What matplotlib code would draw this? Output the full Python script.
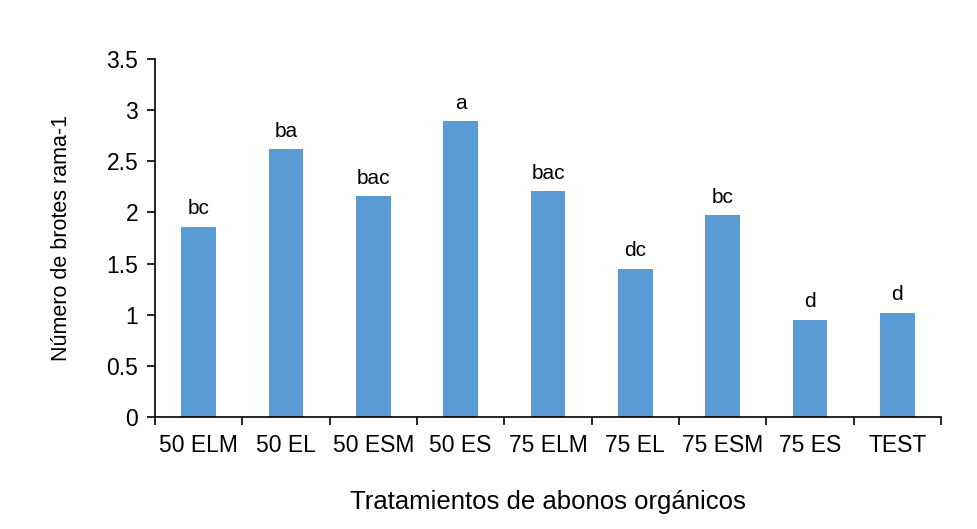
import matplotlib
matplotlib.use('Agg')
import matplotlib.pyplot as plt

plt.rcParams['font.family'] = ['Liberation Sans', 'DejaVu Sans']

tratamientos = ['50 ELM', '50 EL', '50 ESM', '50 ES', '75 ELM', '75 EL', '75 ESM', '75 ES', 'TEST']
brotes = [1.86, 2.62, 2.16, 2.89, 2.21, 1.45, 1.97, 0.95, 1.02]
letras = ['bc', 'ba', 'bac', 'a', 'bac', 'dc', 'bc', 'd', 'd']

BAR_COLOR = '#5b9bd5'

fig = plt.figure(figsize=(9.77, 5.29), dpi=100)
ax = fig.add_axes([155/977, 1 - 417/529, (941-155)/977, (417-59)/529])

x = list(range(len(tratamientos)))
bars = ax.bar(x, brotes, width=0.4, color=BAR_COLOR)

for b, txt in zip(bars, letras):
    ax.annotate(txt, (b.get_x() + b.get_width()/2, b.get_height()),
                xytext=(0, 6), textcoords='offset points',
                ha='center', va='bottom', fontsize=15)

ax.set_xlim(-0.5, len(tratamientos) - 0.5)
ax.set_ylim(0, 3.5)
ax.set_yticks([0, 0.5, 1, 1.5, 2, 2.5, 3, 3.5])
ax.set_yticklabels(['0', '0.5', '1', '1.5', '2', '2.5', '3', '3.5'])

# ticks between categories, like excel
ax.set_xticks([i - 0.5 for i in range(len(tratamientos) + 1)])
ax.set_xticklabels([])
ax.set_xticks(x, minor=True)
ax.set_xticklabels(tratamientos, minor=True)
ax.tick_params(axis='x', which='minor', length=0, pad=12, labelsize=16.5)
ax.tick_params(axis='x', which='major', length=6, width=1.2, direction='out')
ax.tick_params(axis='y', length=6, width=1.2, labelsize=16.5, pad=6)

for side in ['top', 'right']:
    ax.spines[side].set_visible(False)
ax.spines['left'].set_linewidth(1.2)
ax.spines['bottom'].set_linewidth(1.2)

ax.set_xlabel('Tratamientos de abonos orgánicos', fontsize=18.5, labelpad=24)
ax.set_ylabel('Número de brotes rama-1', fontsize=15.5, labelpad=25)

fig.savefig('out.png', dpi=100)
